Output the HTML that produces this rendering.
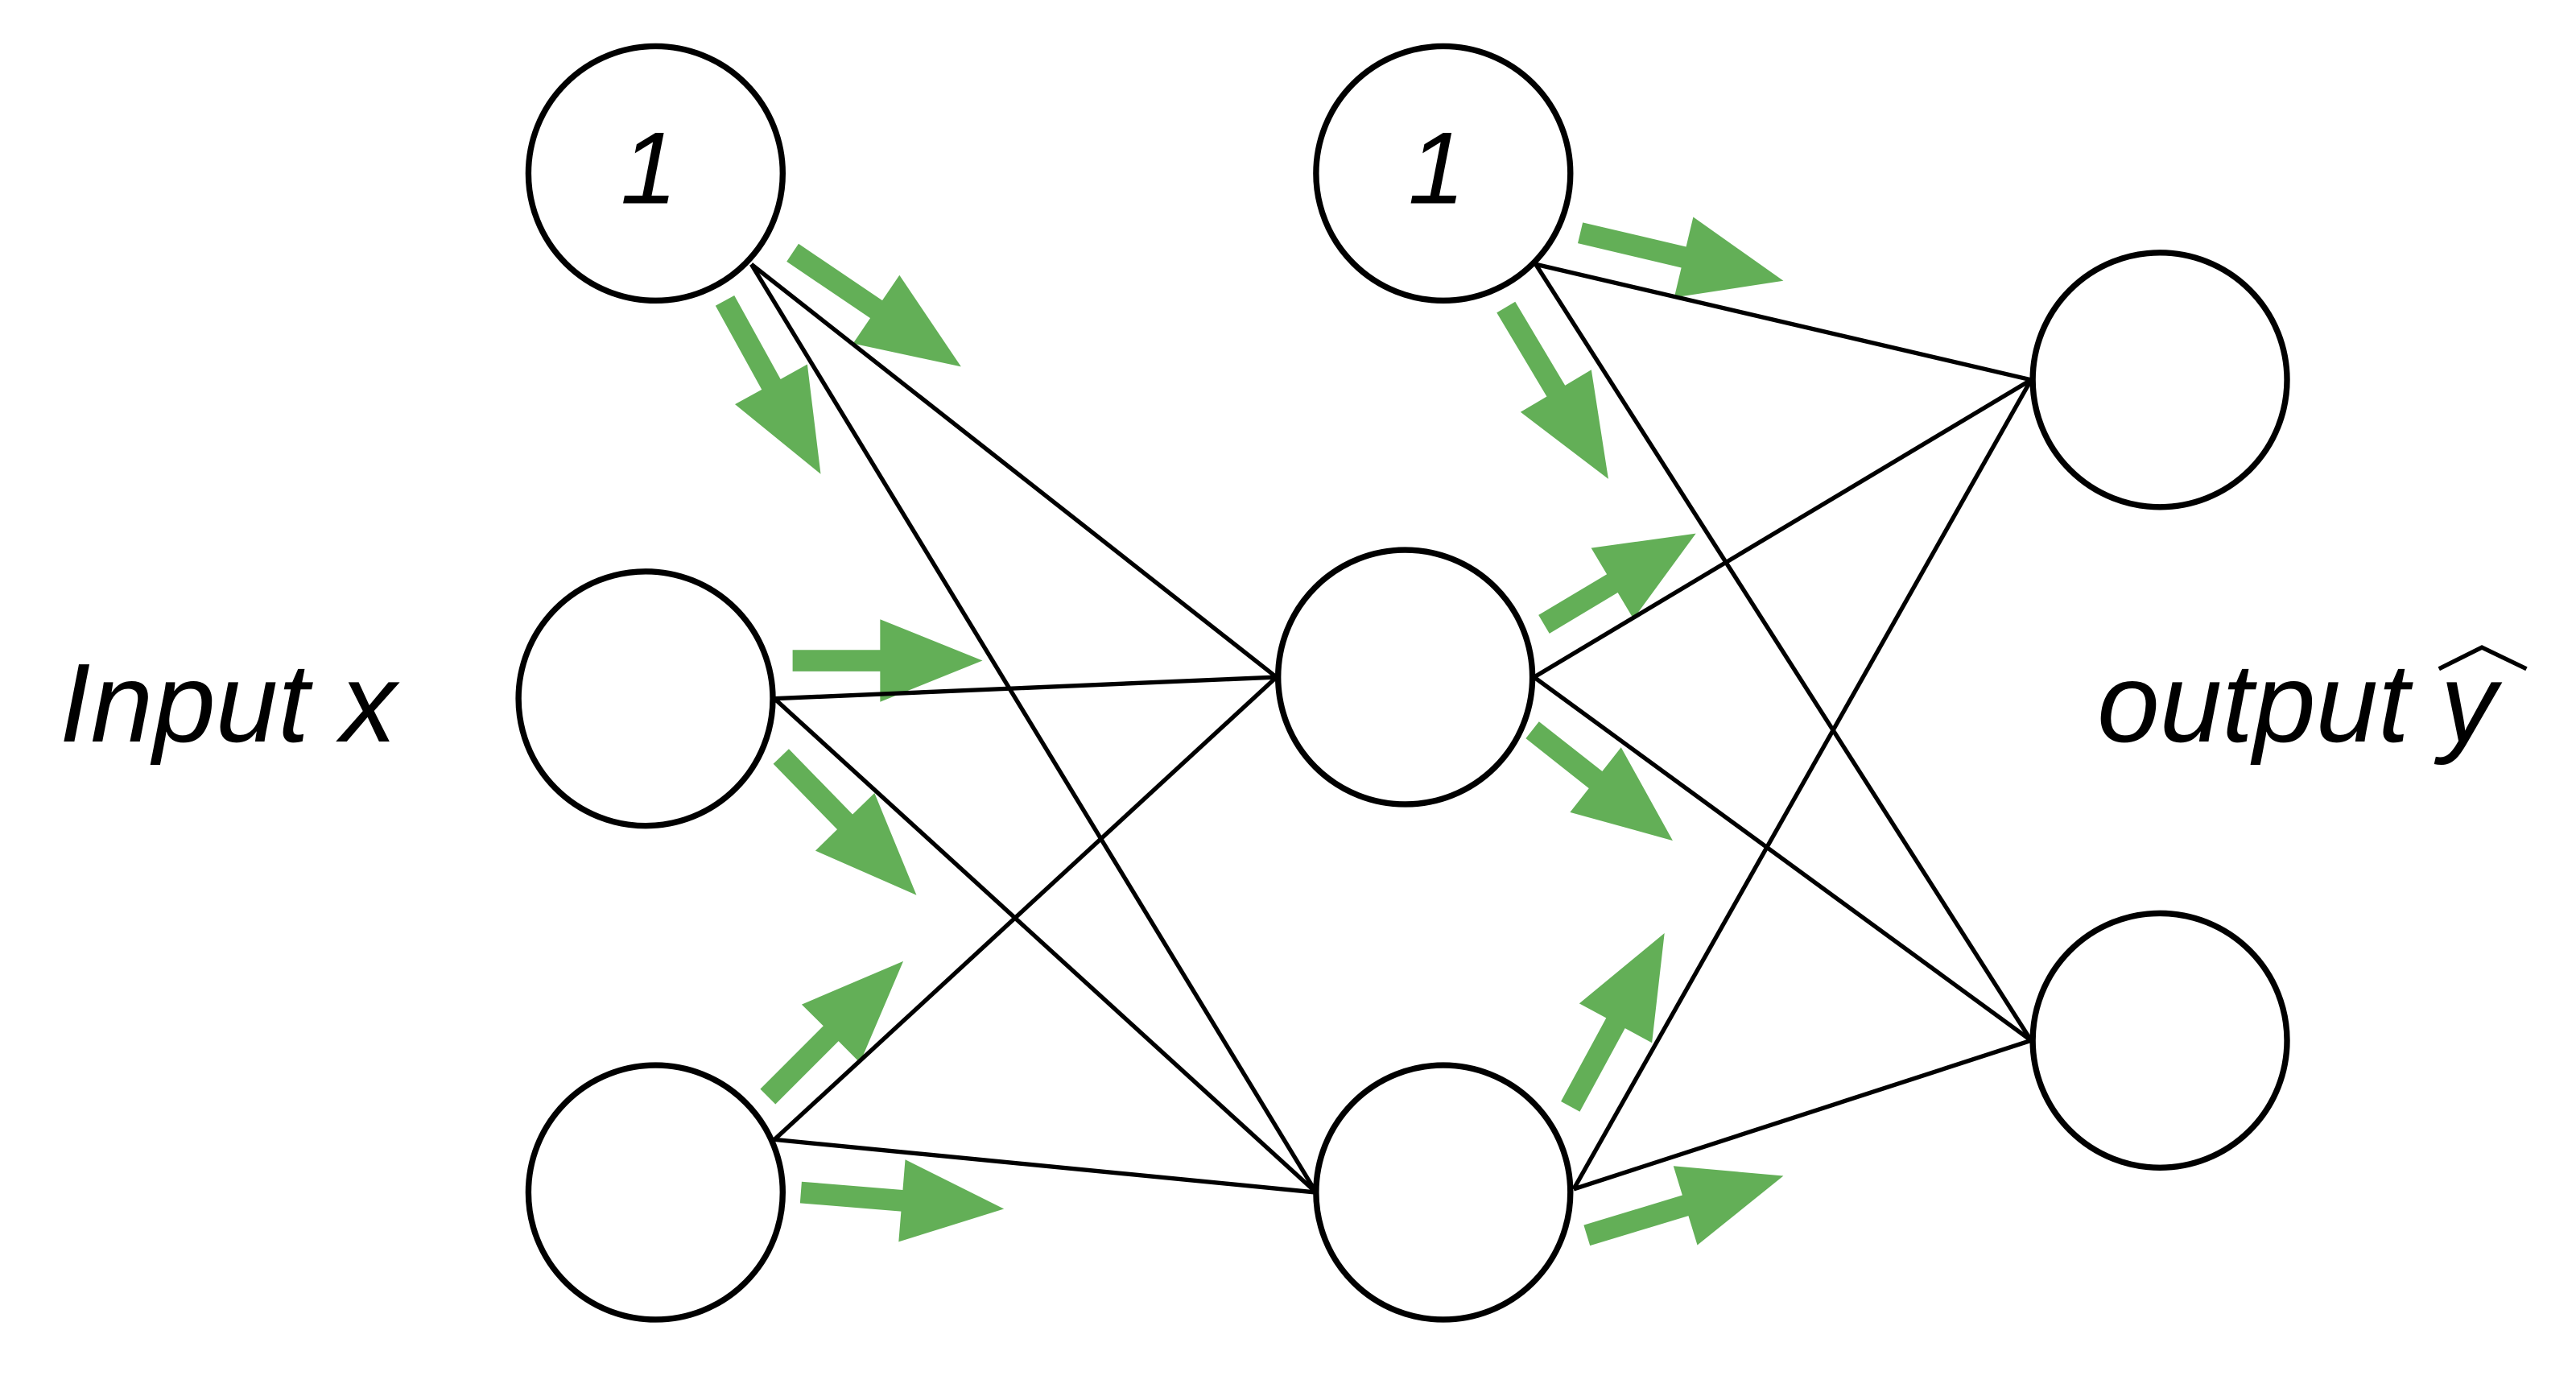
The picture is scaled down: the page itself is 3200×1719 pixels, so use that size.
<!DOCTYPE html>
<html><head><meta charset="utf-8">
<style>
html,body{margin:0;padding:0;background:#fff;}
svg{display:block;}
text{font-family:"Liberation Sans",sans-serif;font-style:italic;fill:#000;}
</style></head>
<body>
<svg id="s" width="3200" height="1719" viewBox="0 0 1560 838" xmlns="http://www.w3.org/2000/svg">
<g id="arrows" fill="#63AF57"></g>
<g stroke="#000" stroke-width="2.6" fill="none">
<line x1="455" y1="160" x2="773" y2="410"/>
<line x1="455" y1="160" x2="797" y2="722"/>
<line x1="469" y1="423" x2="773" y2="410"/>
<line x1="469" y1="423" x2="797" y2="722"/>
<line x1="469" y1="690" x2="773" y2="410"/>
<line x1="469" y1="690" x2="797" y2="722"/>
<line x1="930" y1="160" x2="1230" y2="230"/>
<line x1="930" y1="160" x2="1230" y2="630"/>
<line x1="929" y1="410" x2="1230" y2="230"/>
<line x1="929" y1="410" x2="1230" y2="630"/>
<line x1="953" y1="720" x2="1230" y2="230"/>
<line x1="953" y1="720" x2="1230" y2="630"/>
</g>
<g stroke="#000" stroke-width="3.6" fill="#fff">
<circle cx="397" cy="105" r="77"/>
<circle cx="391" cy="423" r="77"/>
<circle cx="397" cy="722" r="77"/>
<circle cx="874" cy="105" r="77"/>
<circle cx="851" cy="410" r="77"/>
<circle cx="874" cy="722" r="77"/>
<circle cx="1308" cy="230" r="77"/>
<circle cx="1308" cy="630" r="77"/>
</g>
<text x="393" y="123" font-size="62" text-anchor="middle">1</text>
<text x="870" y="123" font-size="62" text-anchor="middle">1</text>
<text x="36" y="449" font-size="68">Input x</text>
<text x="1270" y="449" font-size="68">output  y</text>
<polyline points="1477,405 1503,392 1530,405" fill="none" stroke="#000" stroke-width="2.6"/>
</svg>
<script>
var A=[[480,153,582,222],[439,182,497,287],[480,400,595,400],[473,458,555,542],[465,664,547,582],[485,722,608,732],[957,141,1080,170],[912,186,974,290],[935,378,1027,323],[928,442,1013,509],[951,670,1008,565],[961,748,1080,712]];
var g=document.getElementById('arrows'),ns='http://www.w3.org/2000/svg';
A.forEach(function(a){
 var dx=a[2]-a[0],dy=a[3]-a[1],L=Math.hypot(dx,dy),ux=dx/L,uy=dy/L,px=-uy,py=ux;
 var hl=Math.min(62,L*0.55),sw=6.5,hw=25;
 var bx=a[2]-ux*hl,by=a[3]-uy*hl;
 var pts=[[a[0]+px*sw,a[1]+py*sw],[bx+px*sw,by+py*sw],[bx+px*hw,by+py*hw],[a[2],a[3]],[bx-px*hw,by-py*hw],[bx-px*sw,by-py*sw],[a[0]-px*sw,a[1]-py*sw]];
 var p=document.createElementNS(ns,'polygon');
 p.setAttribute('points',pts.map(function(q){return q[0].toFixed(1)+','+q[1].toFixed(1)}).join(' '));
 g.appendChild(p);
});
</script>
</body></html>
